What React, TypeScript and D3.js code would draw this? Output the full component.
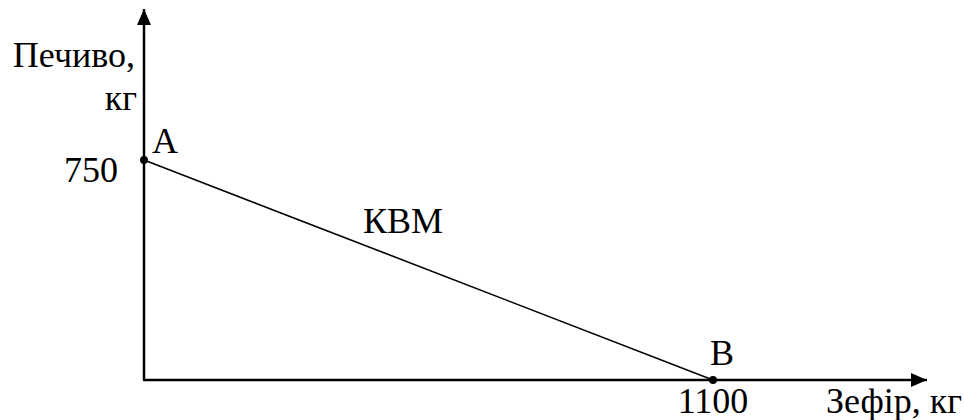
import React, { useEffect, useRef } from 'react';
import * as d3 from 'd3';

// production possibilities: zefir (x) vs pechyvo (y)
const pointNames = ['A', 'B'];
const zefirValues = [0, 1100];
const pechyvoValues = [750, 0];
const curveLabel = 'КВМ';
const xAxisLabel = ['Зефір, кг'];
const yAxisLabel = ['Печиво,', 'кг'];

const W = 964;
const H = 420;

const App = () => {
  const ref = useRef<SVGGElement>(null);

  useEffect(() => {
    const g = d3.select(ref.current);
    g.selectAll('*').remove();

    const x = d3.scaleLinear().domain([0, 1100]).range([144, 713]);
    const y = d3.scaleLinear().domain([0, 750]).range([380, 160]);

    const x0 = x(0);
    const y0 = y(0);

    // axes with arrow heads
    g.append('line')
      .attr('x1', x0).attr('y1', y0)
      .attr('x2', x0).attr('y2', 9)
      .attr('stroke', '#000').attr('stroke-width', 2.5)
      .attr('marker-end', 'url(#arrow)');
    g.append('line')
      .attr('x1', x0 - 1).attr('y1', y0)
      .attr('x2', 927).attr('y2', y0)
      .attr('stroke', '#000').attr('stroke-width', 2.5)
      .attr('marker-end', 'url(#arrow)');

    const pts = pointNames.map((n, i) => ({ name: n, zx: zefirValues[i], py: pechyvoValues[i] }));

    // КВМ line
    const line = d3.line<{ zx: number; py: number }>()
      .x(d => x(d.zx))
      .y(d => y(d.py));
    g.append('path')
      .datum(pts)
      .attr('d', line)
      .attr('fill', 'none')
      .attr('stroke', '#000')
      .attr('stroke-width', 1.6);

    g.selectAll('circle.pt')
      .data(pts)
      .enter().append('circle')
      .attr('class', 'pt')
      .attr('cx', d => x(d.zx))
      .attr('cy', d => y(d.py))
      .attr('r', 4)
      .attr('fill', '#000');

    const txt = (tx: number, ty: number, s: string, anchor = 'start') =>
      g.append('text')
        .attr('x', tx).attr('y', ty)
        .attr('text-anchor', anchor)
        .attr('fill', '#000')
        .text(s);

    // point labels
    txt(x(pts[0].zx) + 8, y(pts[0].py) - 7, pts[0].name);
    txt(x(pts[1].zx) + 9, y(pts[1].py) - 15, pts[1].name, 'middle');

    // value labels
    txt(x0 - 26, y(pechyvoValues[0]) + 22, String(pechyvoValues[0]), 'end');
    txt(x(zefirValues[1]), y0 + 33, String(zefirValues[1]), 'middle');

    // curve label, above the line
    txt(363, 233, curveLabel);

    // axis titles
    txt(135, 67, yAxisLabel[0], 'end');
    txt(137, 110, yAxisLabel[1], 'end');
    txt(826, 413, xAxisLabel[0]);
  }, []);

  return (
    <svg
      width={W}
      height={H}
      style={{ position: 'absolute', left: 0, top: 0, background: '#fff', fontFamily: 'Liberation Serif', fontSize: 36 }}
    >
      <defs>
        <marker
          id="arrow"
          viewBox="0 0 16 14"
          refX={16}
          refY={7}
          markerWidth={16}
          markerHeight={14}
          markerUnits="userSpaceOnUse"
          orient="auto"
        >
          <path d="M0,0 L16,7 L0,14 Z" fill="#000" />
        </marker>
      </defs>
      <g ref={ref} />
    </svg>
  );
};

export default App;
